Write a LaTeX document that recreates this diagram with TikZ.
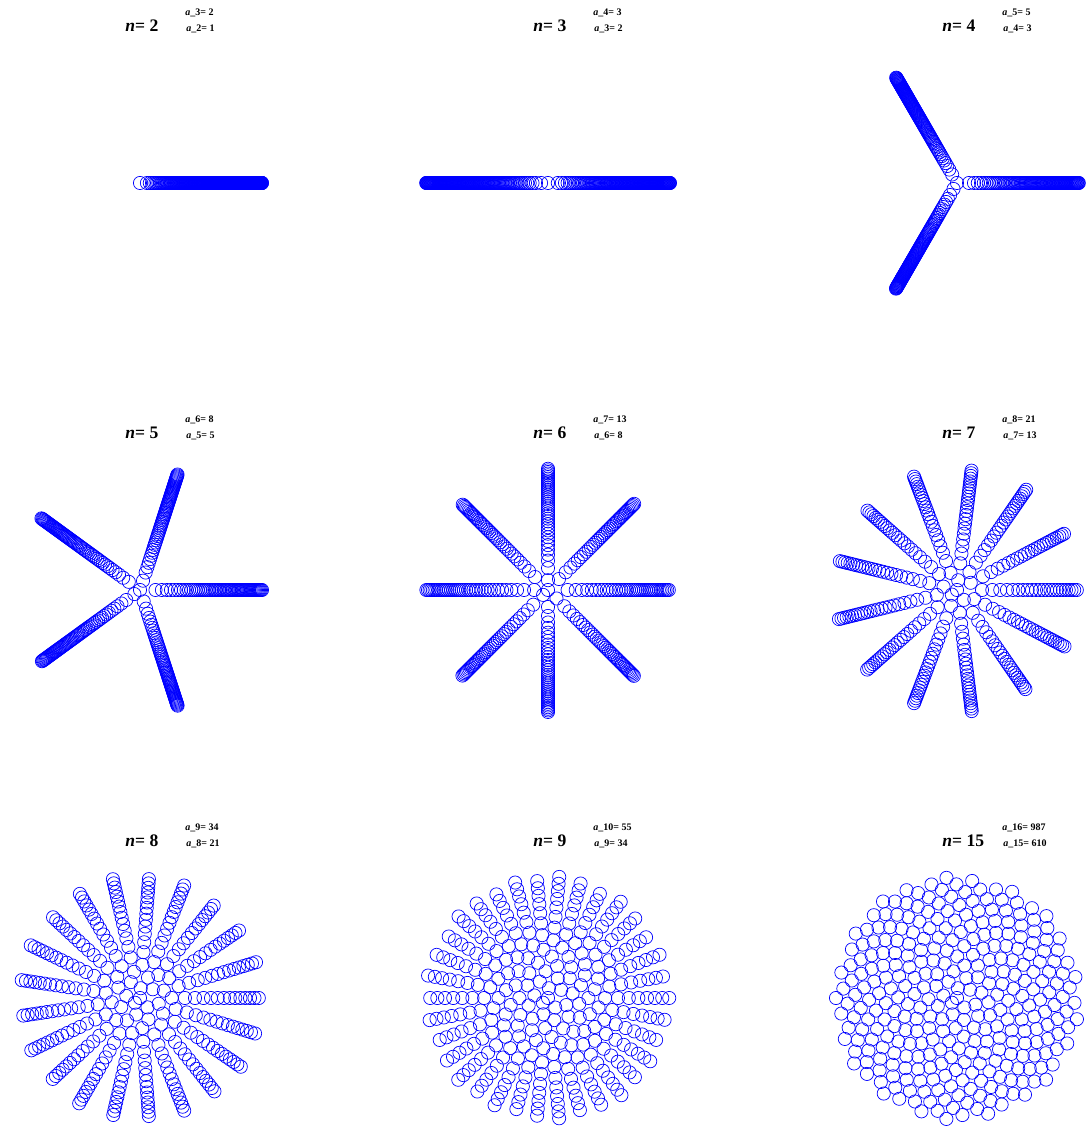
\documentclass[tikz,border=0pt]{standalone}
\usepackage{fontspec}
\setmainfont{Liberation Serif}
\begin{document}
\begin{tikzpicture}[x=0.5pt, y=0.5pt,
        seed/.style={draw=blue, line width=0.35pt},
        ttl/.style={anchor=base west, inner sep=0pt, font=\fontsize{8.8}{10}\selectfont\bfseries},
        lbl/.style={anchor=base west, inner sep=0pt, font=\fontsize{5}{6}\selectfont\bfseries}
    ]
    \useasboundingbox (0,0) rectangle (1088,1129);

    % one panel per ratio a_{n+1}/a_n
    \foreach \cx/\cy/\n/\p/\q [count=\i] in {140/946/2/2/1, 548/946/3/3/2, 957/946/4/5/3,
            140/539/5/8/5, 548/539/6/13/8, 957/539/7/21/13,
            140/131/8/34/21, 548/131/9/55/34, 957/131/15/987/610} {
        \coordinate (c\i) at (\cx,\cy);
        \node[ttl] (t\i) at (\cx-15,\cy+151) {{\itshape n}= \n};
        \node[lbl] (u\i) at (\cx+45,\cy+167) {{\itshape a}\_\the\numexpr\n+1\relax= \p};
        \node[lbl] (l\i) at (\cx+46,\cy+151) {{\itshape a}\_\n= \q};
        \foreach \k in {0,...,310} {
            \pgfmathsetmacro\rr{6.929*sqrt(\k)}
            \edef\m{\the\numexpr \k*\p-\q*((2*\k*\p-\q)/(2*\q))\relax}
            \draw[seed] (c\i) ++({\m/\q*360}:\rr) circle[radius=6.6];
        }
    }
\end{tikzpicture}
\end{document}
